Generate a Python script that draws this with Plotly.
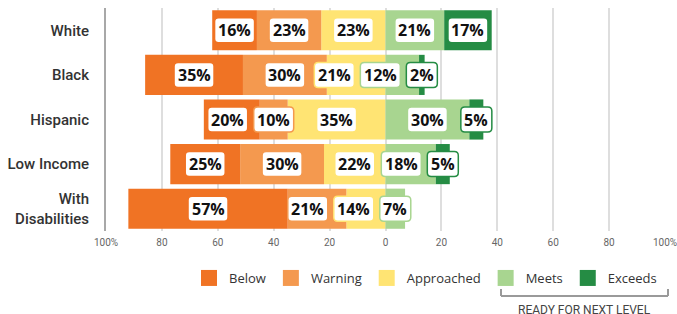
import plotly.graph_objects as go

# ---------------- data ----------------
categories = ["White", "Black", "Hispanic", "Low Income", "With Disabilities"]
category_labels = ["White", "Black", "Hispanic", "Low Income", "With<br>Disabilities"]
below = [16, 35, 20, 25, 57]
warning = [23, 30, 10, 30, 21]
approached = [23, 21, 35, 22, 14]
meets = [21, 12, 30, 18, 7]
exceeds = [17, 2, 5, 5, 0]
series_names = ["Below", "Warning", "Approached", "Meets", "Exceeds"]
series_colors = ["#F07324", "#F4994F", "#FFE473", "#A8D590", "#258C44"]
tick_values = [-100, -80, -60, -40, -20, 0, 20, 40, 60, 80, 100]
tick_labels = ["100%", "80", "60", "40", "20", "0", "20", "40", "60", "80", "100%"]
bracket_label = "READY FOR NEXT LEVEL"

# ---------------- layout constants ----------------
W, H = 677, 314
# plot area in window pixels
PX0, PX1, PY0, PY1 = 106, 665, 8, 231
ML, MR, MT, MB = PX0, W - PX1, PY0, H - PY1
PW, PH = PX1 - PX0, PY1 - PY0
XMIN, XMAX = -100, 100
px_per_unit = PW / (XMAX - XMIN)
px_per_cat = PH / len(categories)

values = {"Below": below, "Warning": warning, "Approached": approached,
          "Meets": meets, "Exceeds": exceeds}
color_of = dict(zip(series_names, series_colors))

fig = go.Figure()

# negative side stacks outward from zero: Approached, Warning, Below
for name in ["Approached", "Warning", "Below"]:
    fig.add_trace(go.Bar(
        y=categories, x=[-v for v in values[name]], orientation="h",
        marker=dict(color=color_of[name], line=dict(width=0)),
        name=name, showlegend=False, hoverinfo="skip"))
for name in ["Meets", "Exceeds"]:
    fig.add_trace(go.Bar(
        y=categories, x=values[name], orientation="h",
        marker=dict(color=color_of[name], line=dict(width=0)),
        name=name, showlegend=False, hoverinfo="skip"))

# legend entries (larger square swatches)
for name in series_names:
    fig.add_trace(go.Scatter(
        x=[None], y=[None], mode="markers", name=name,
        marker=dict(symbol="square", size=16, color=color_of[name]),
        showlegend=True, hoverinfo="skip"))

# ---------------- value labels (rounded white boxes) ----------------
annotations = []
shapes = []
gap_px = 6
box_h_px = 25
radius_px = 4
for i, cat in enumerate(categories):
    left = -(below[i] + warning[i] + approached[i])
    segs = []
    pos = left
    for name in series_names:
        v = values[name][i]
        if v > 0:
            segs.append((name, v, pos + v / 2))
        pos += v
    # place labels right-to-left, pushing left to avoid overlaps
    placed = []
    next_left = None
    for name, v, center in reversed(segs):
        text = f"{v}%"
        wpx = 40 if len(text) >= 3 else 31
        half = wpx / 2 / px_per_unit
        c = center
        if next_left is not None and c + half > next_left - gap_px / px_per_unit:
            c = next_left - gap_px / px_per_unit - half
        next_left = c - half
        placed.append((name, text, c, half))
    for name, text, c, half in placed:
        x0, x1 = c - half, c + half
        hy = box_h_px / 2 / px_per_cat
        y0, y1 = i - hy, i + hy
        rx = radius_px / px_per_unit
        ry = radius_px / px_per_cat
        path = (f"M{x0 + rx},{y0} L{x1 - rx},{y0} Q{x1},{y0} {x1},{y0 + ry} "
                f"L{x1},{y1 - ry} Q{x1},{y1} {x1 - rx},{y1} "
                f"L{x0 + rx},{y1} Q{x0},{y1} {x0},{y1 - ry} "
                f"L{x0},{y0 + ry} Q{x0},{y0} {x0 + rx},{y0} Z")
        shapes.append(dict(type="path", path=path, xref="x", yref="y",
                           fillcolor="white", layer="above",
                           line=dict(color=color_of[name], width=1.5)))
        annotations.append(dict(
            x=c, y=cat, xref="x", yref="y", text=f"<b>{text}</b>",
            showarrow=False,
            font=dict(family="Open Sans", size=16, color="#111")))

# bracket under Meets / Exceeds (window pixel positions -> paper)
def px_to_paper_x(px):
    return (px - PX0) / PW

def px_to_paper_y(py):
    return (PY1 - py) / PH

bx0, bx1, by, btop = 501, 668, 296, 289
for xa, ya, xb, yb in [(bx0, by, bx1, by), (bx0, by, bx0, btop), (bx1, by, bx1, btop)]:
    shapes.append(dict(type="line", xref="paper", yref="paper",
                       x0=px_to_paper_x(xa), x1=px_to_paper_x(xb),
                       y0=px_to_paper_y(ya), y1=px_to_paper_y(yb),
                       line=dict(color="#9a9a9a", width=2)))
annotations.append(dict(
    x=px_to_paper_x((bx0 + bx1) / 2), y=px_to_paper_y(301), xref="paper", yref="paper",
    xanchor="center", yanchor="top", showarrow=False, text=bracket_label,
    font=dict(family="Roboto", size=12, color="#444")))

fig.update_layout(
    width=W, height=H,
    margin=dict(l=ML, r=MR, t=MT, b=MB, pad=0, autoexpand=False),
    paper_bgcolor="white", plot_bgcolor="white",
    barmode="relative", bargap=0.1,
    showlegend=True,
    legend=dict(orientation="h", x=px_to_paper_x(189), y=px_to_paper_y(263),
                xanchor="left", yanchor="top", bgcolor="rgba(0,0,0,0)",
                font=dict(family="Open Sans", size=13, color="#333"),
                itemclick=False, itemdoubleclick=False),
    xaxis=dict(range=[XMIN, XMAX], tickvals=tick_values, ticktext=tick_labels,
               showgrid=True, gridcolor="#dedede", gridwidth=1.5,
               zeroline=True, zerolinecolor="#dedede", zerolinewidth=1.5,
               showline=False, ticks="", automargin=False,
               ticklabeloverflow="allow", ticklabelstandoff=4,
               tickfont=dict(family="Roboto", size=10, color="#666")),
    yaxis=dict(categoryorder="array", categoryarray=categories,
               tickvals=categories, ticktext=category_labels,
               range=[len(categories) - 0.5, -0.5],
               showgrid=False, zeroline=False, automargin=False,
               showline=True, linecolor="#a8a8a8", linewidth=2,
               ticks="", ticklabelstandoff=12,
               tickfont=dict(family="Roboto", size=15, color="#333", weight=500)),
    annotations=annotations, shapes=shapes,
)

# place the figure flush with the window (no default body margin / scrollbars)
fig.write_html("out.html",
               config={"displayModeBar": False},
               post_script="document.body.style.margin='0';"
                           "document.body.style.overflow='hidden';"
                           "document.documentElement.style.overflow='hidden';")
